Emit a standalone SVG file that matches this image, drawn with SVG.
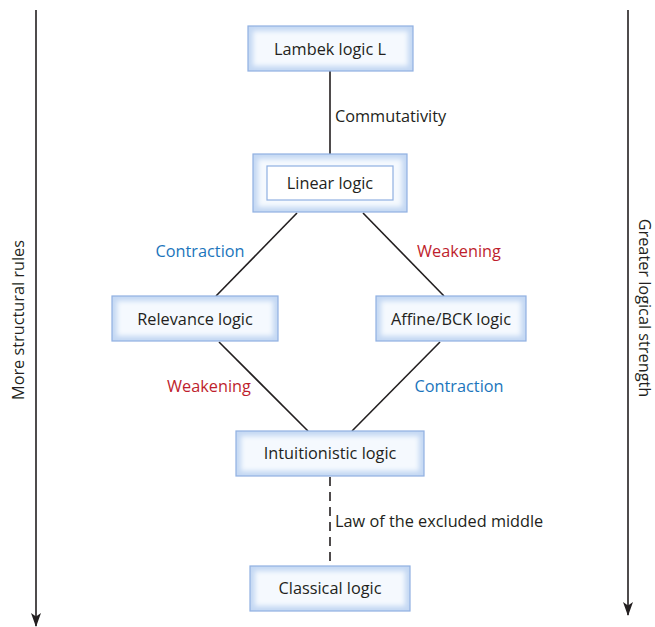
<svg xmlns="http://www.w3.org/2000/svg" width="655" height="627" viewBox="0 0 655 627">
<defs>
<filter id="glow" x="-20%" y="-50%" width="140%" height="200%"><feGaussianBlur stdDeviation="2.5"/></filter>
<marker id="ah" viewBox="0 0 14 10" refX="13" refY="5" markerWidth="14" markerHeight="10" markerUnits="userSpaceOnUse" orient="auto">
<path d="M0,0 L3.5,5 L0,10 L14,5 Z" fill="#231f20"/>
</marker>
</defs>
<style>
.box{fill:#c4d8f3;stroke:#8fb0e2;stroke-width:1.2}
.in{fill:#f5f9fe;filter:url(#glow)}
.t{font-family:"Open Sans","Liberation Sans",sans-serif;font-size:16.3px;fill:#231f20;text-anchor:middle;dominant-baseline:central}
.l{font-family:"Open Sans","Liberation Sans",sans-serif;font-size:16.3px;fill:#231f20;dominant-baseline:central}
.blue{fill:#1b75bc;text-anchor:middle}
.red{fill:#be1e2d;text-anchor:middle}
.e{stroke:#231f20;stroke-width:1.6;fill:none}
</style>
<rect width="655" height="627" fill="#ffffff"/>
<g id="axes">
<line class="e" x1="36" y1="10" x2="36" y2="626" marker-end="url(#ah)"/>
<line class="e" x1="628" y1="10" x2="628" y2="615" marker-end="url(#ah)"/>
<text class="t" transform="translate(18,320) rotate(-90)">More structural rules</text>
<text class="t" transform="translate(645,308) rotate(90)">Greater logical strength</text>
</g>
<g id="connectors">
<line class="e" x1="330" y1="71" x2="330" y2="154"/>
<text class="l" x="335" y="116">Commutativity</text>
<line class="e" x1="297" y1="213" x2="216" y2="296"/>
<text class="l blue" x="200" y="251">Contraction</text>
<line class="e" x1="363" y1="213" x2="444" y2="296"/>
<text class="l red" x="459" y="251">Weakening</text>
<line class="e" x1="219" y1="342" x2="308" y2="431"/>
<text class="l red" x="209" y="386">Weakening</text>
<line class="e" x1="440" y1="342" x2="352" y2="431"/>
<text class="l blue" x="459" y="386">Contraction</text>
<line class="e" x1="330" y1="477" x2="330" y2="566" stroke-dasharray="9,6"/>
<text class="l" x="335" y="521">Law of the excluded middle</text>
</g>
<g id="lambek">
<rect class="box" x="248" y="26" width="165" height="45"/>
<rect class="in" x="253" y="31" width="155" height="35"/>
<text class="t" x="330" y="49">Lambek logic L</text>
</g>
<g id="linear">
<rect class="box" x="253" y="154" width="154" height="58"/>
<rect class="in" x="258" y="159" width="144" height="48"/>
<rect x="267" y="166" width="126" height="34" fill="#ffffff" stroke="#8fb0e2" stroke-width="1.2"/>
<text class="t" x="330" y="183">Linear logic</text>
</g>
<g id="relevance">
<rect class="box" x="112" y="296" width="166" height="45"/>
<rect class="in" x="117" y="301" width="156" height="35"/>
<text class="t" x="195" y="319">Relevance logic</text>
</g>
<g id="affine">
<rect class="box" x="376" y="296" width="150" height="45"/>
<rect class="in" x="381" y="301" width="140" height="35"/>
<text class="t" x="451" y="319">Affine/BCK logic</text>
</g>
<g id="intuitionistic">
<rect class="box" x="236" y="431" width="188" height="45"/>
<rect class="in" x="241" y="436" width="178" height="35"/>
<text class="t" x="330" y="453">Intuitionistic logic</text>
</g>
<g id="classical">
<rect class="box" x="250" y="566" width="160" height="45"/>
<rect class="in" x="255" y="571" width="150" height="35"/>
<text class="t" x="330" y="588">Classical logic</text>
</g>
</svg>
